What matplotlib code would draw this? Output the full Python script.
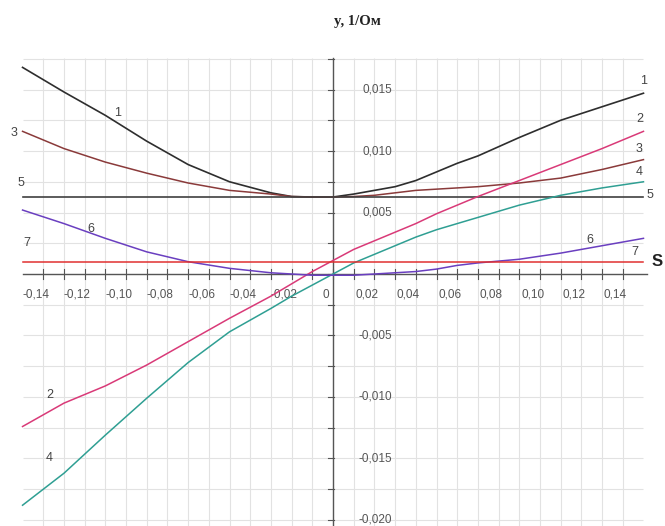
import numpy as np
import matplotlib
matplotlib.use('Agg')
import matplotlib.pyplot as plt

# данные
s = [-0.15, -0.13, -0.11, -0.09, -0.07, -0.05, -0.03, -0.02, -0.01, 0.0,
     0.01, 0.02, 0.03, 0.04, 0.05, 0.06, 0.07, 0.09, 0.11, 0.13, 0.15]

y1 = [0.0168, 0.0148, 0.0129, 0.0108, 0.0089, 0.0075, 0.0066, 0.0063, 0.00626, 0.00626,
      0.0065, 0.0068, 0.0071, 0.0076, 0.0083, 0.0090, 0.0096, 0.0111, 0.0125, 0.0136, 0.0147]
y2 = [-0.0124, -0.0105, -0.0091, -0.0074, -0.0055, -0.0036, -0.0018, -0.0008, 0.0002, 0.0011,
      0.0020, 0.0027, 0.0034, 0.0041, 0.0049, 0.0056, 0.0063, 0.0076, 0.0089, 0.0102, 0.0116]
y3 = [0.0116, 0.0102, 0.0091, 0.0082, 0.0074, 0.0068, 0.0065, 0.0063, 0.00626, 0.00626,
      0.0063, 0.0064, 0.0066, 0.0068, 0.0069, 0.0070, 0.0071, 0.0074, 0.0078, 0.0085, 0.0093]
y4 = [-0.0188, -0.0162, -0.0131, -0.0101, -0.0072, -0.0047, -0.0028, -0.0018, -0.0009, 0.0000,
      0.0009, 0.0016, 0.0023, 0.0030, 0.0036, 0.0041, 0.0046, 0.0056, 0.0064, 0.0070, 0.0075]
y6 = [0.0052, 0.0041, 0.0029, 0.0018, 0.0010, 0.00046, 0.0001, 0.0000, -0.0001, -0.0001,
      -0.0001, 0.0000, 0.0001, 0.0002, 0.0004, 0.0007, 0.0009, 0.0012, 0.0017, 0.0023, 0.0029]
y5 = 0.0063
y7 = 0.0010

x_ticks = [-0.14, -0.12, -0.10, -0.08, -0.06, -0.04, -0.02, 0.02, 0.04, 0.06, 0.08, 0.10, 0.12, 0.14]
y_ticks = [0.015, 0.010, 0.005, -0.005, -0.010, -0.015, -0.020]

fig = plt.figure(figsize=(6.65, 5.26), dpi=100)
ax = fig.add_axes([0, 0, 1, 1])
ax.set_xlim(-0.1609, 0.1604)
ax.set_ylim(-0.02049, 0.02228)
ax.axis('off')

# сетка
grid_c = '#e2e2e2'
ax.vlines(np.arange(-0.14, 0.1401, 0.01), -0.0205, 0.0176, color=grid_c, lw=0.8, zorder=0)
ax.hlines(np.arange(-0.02, 0.0176, 0.0025), -0.15, 0.15, color=grid_c, lw=0.8, zorder=0)

# оси
ax.plot([-0.15, 0.1515], [0, 0], color='#555555', lw=1.0, zorder=2)
ax.plot([0, 0], [-0.0205, 0.0176], color='#555555', lw=1.0, zorder=2)
for t in np.arange(-0.14, 0.1401, 0.01):
    ax.plot([t, t], [-0.0004, 0.0004], color='#555555', lw=0.8, zorder=2)
for t in np.arange(-0.02, 0.0176, 0.0025):
    ax.plot([-0.0025, 0.0004], [t, t], color='#555555', lw=0.8, zorder=2)

lab_c = '#555555'
for t in x_ticks:
    ax.text(t - 0.0035, -0.0017, ('%.2f' % t).replace('.', ','), ha='center', va='center',
            fontsize=8.5, color=lab_c, family='Liberation Sans')
ax.text(-0.0035, -0.0017, '0', ha='center', va='center', fontsize=8.5, color=lab_c,
        family='Liberation Sans')
for t in y_ticks:
    ax.text(0.0285, t, ('%.3f' % t).replace('.', ','), ha='right', va='center',
            fontsize=8.5, color=lab_c, family='Liberation Sans')

# кривые
ax.plot(s, y1, color='#2e2e2e', lw=1.2, zorder=3)
ax.plot(s, y3, color='#8a3a3a', lw=1.1, zorder=3)
ax.plot([-0.15, 0.15], [y5, y5], color='#404040', lw=1.2, zorder=3)
ax.plot(s, y2, color='#d93a78', lw=1.1, zorder=3)
ax.plot(s, y4, color='#2f9f93', lw=1.1, zorder=3)
ax.plot(s, y6, color='#6a3fc0', lw=1.1, zorder=3)
ax.plot([-0.15, 0.15], [y7, y7], color='#e03030', lw=1.1, zorder=3)

# подписи кривых
num_c = '#444444'
labels = [('1', -0.104, 0.0131), ('3', -0.154, 0.0115), ('5', -0.151, 0.0074),
          ('6', -0.117, 0.0037), ('7', -0.148, 0.0025), ('2', -0.137, -0.0098),
          ('4', -0.137, -0.0150), ('1', 0.150, 0.0157), ('2', 0.148, 0.0126),
          ('3', 0.148, 0.0102), ('4', 0.148, 0.0083), ('5', 0.153, 0.0064),
          ('6', 0.124, 0.0028), ('7', 0.146, 0.0018)]
for txt, xx, yy in labels:
    ax.text(xx, yy, txt, ha='center', va='center', fontsize=9, color=num_c,
            family='Liberation Sans')

ax.text(0.1565, 0.0010, 'S', ha='center', va='center', fontsize=12, fontweight='bold',
        color='#222222', family='Liberation Sans')
ax.text(0.0116, 0.0205, 'y, 1/Ом', ha='center', va='center', fontsize=10.5,
        fontweight='bold', color='#222222', family='Liberation Serif')

fig.savefig('out.png', dpi=100)
